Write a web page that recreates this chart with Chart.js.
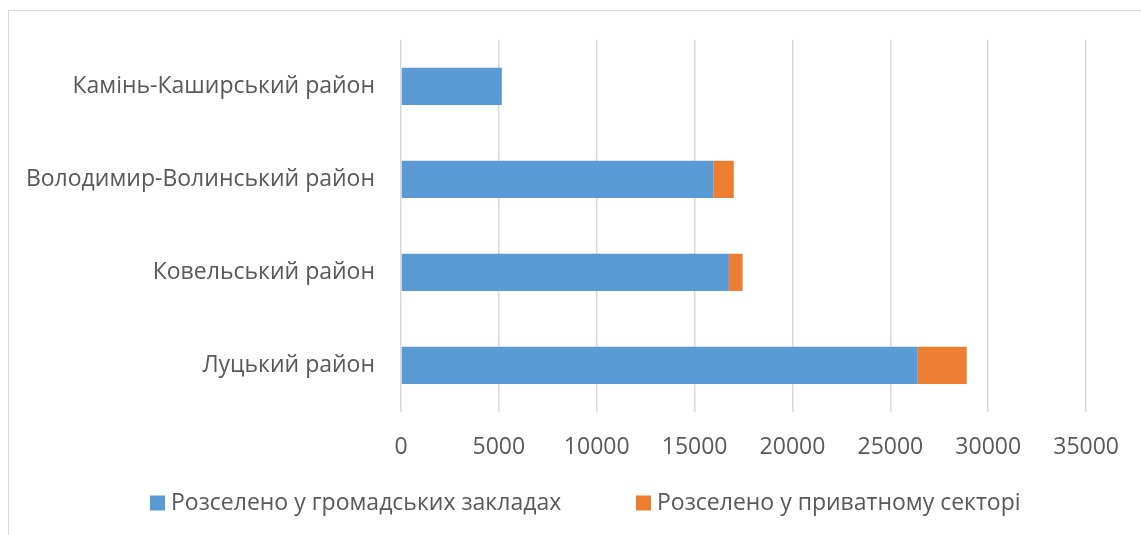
<!DOCTYPE html>
<html>
<head>
<meta charset="utf-8">
<script src="https://cdn.jsdelivr.net/npm/chart.js@4"></script>
<style>
html,body{margin:0;padding:0;background:#fff;}
#frame{position:absolute;left:8px;top:10px;width:1200px;height:600px;border:1px solid #d9d9d9;box-sizing:border-box;}
#wrap{position:absolute;left:0;top:0;width:1141px;height:535px;}
</style>
</head>
<body>
<div id="frame"></div>
<div id="wrap"><canvas id="c" width="1141" height="535"></canvas></div>
<script>
const categories = ['Камінь-Каширський район', 'Володимир-Волинський район', 'Ковельський район', 'Луцький район'];
const seriesNames = ['Розселено у громадських закладах', 'Розселено у приватному секторі'];
const publicValues = [5150, 15950, 16750, 26400];
const privateValues = [0, 1050, 700, 2500];
const xTicks = [0, 5000, 10000, 15000, 20000, 25000, 30000, 35000];
const colors = ['#5B9BD5', '#ED7D31'];

const FONT = "'Open Sans', sans-serif";
const FS = 23;
const TEXT = '#595959';

const legendPlugin = {
  id: 'customLegend',
  afterDraw(chart) {
    const ctx = chart.ctx;
    const xs = [150, 636];
    const y = 503;
    ctx.save();
    ctx.font = FS + 'px ' + FONT;
    ctx.textBaseline = 'middle';
    ctx.textAlign = 'left';
    chart.data.datasets.forEach((ds, i) => {
      ctx.fillStyle = ds.backgroundColor;
      ctx.fillRect(xs[i], y - 7.5, 15, 15);
      ctx.fillStyle = TEXT;
      ctx.fillText(ds.label, xs[i] + 21, y);
    });
    ctx.restore();
  }
};

new Chart(document.getElementById('c'), {
  type: 'bar',
  data: {
    labels: categories,
    datasets: [
      { label: seriesNames[0], data: publicValues, backgroundColor: colors[0], borderWidth: 0 },
      { label: seriesNames[1], data: privateValues, backgroundColor: colors[1], borderWidth: 0 }
    ]
  },
  options: {
    indexAxis: 'y',
    responsive: false,
    animation: false,
    devicePixelRatio: 1,
    layout: { padding: { left: 0, right: 54, top: 39, bottom: 0 } },
    plugins: { legend: { display: false }, tooltip: { enabled: false } },
    datasets: { bar: { barPercentage: 0.4, categoryPercentage: 1 } },
    scales: {
      x: {
        stacked: true,
        min: 0, max: 35000,
        afterBuildTicks(s) { s.ticks = xTicks.map(v => ({ value: v })); },
        afterFit(s) { s.height = 123; },
        grid: { color: '#d9d9d9', lineWidth: 1.5, drawTicks: false },
        border: { display: false },
        ticks: { color: TEXT, font: { family: FONT, size: FS }, padding: 22, maxRotation: 0, autoSkip: false,
                 callback: (v) => String(v) }
      },
      y: {
        stacked: true,
        afterFit(s) { s.width = 401; },
        grid: { display: false, drawTicks: false },
        border: { display: false },
        ticks: { color: TEXT, font: { family: FONT, size: FS }, padding: 26 }
      }
    }
  },
  plugins: [legendPlugin]
});
</script>
</body>
</html>
